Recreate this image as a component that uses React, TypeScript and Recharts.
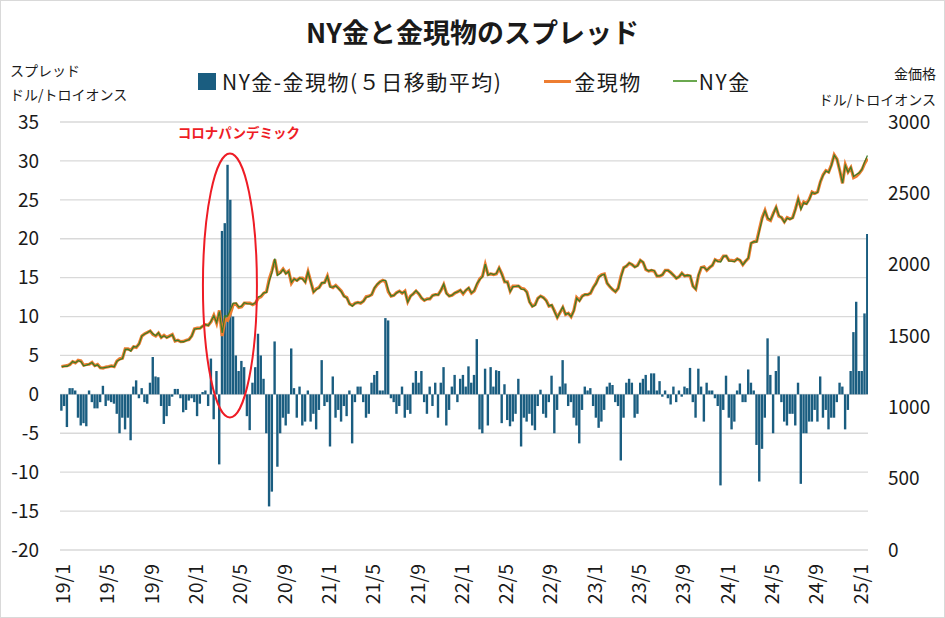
import { ComposedChart, Bar, Line, XAxis, YAxis, CartesianGrid, ReferenceDot } from 'recharts'

const FONT = '"Noto Sans CJK JP", "Noto Sans", sans-serif'

// spot gold, USD/oz, four readings per month (about 1st, 8th, 16th, 23rd)
const spot19 = [
  1285, 1290, 1292, 1300, 1320, 1312, 1330, 1325, 1295, 1300, 1302, 1315,
  1292, 1300, 1278, 1275, 1282, 1285, 1290, 1285, 1325, 1340, 1345, 1410,
  1410, 1400, 1425, 1420, 1445, 1500, 1515, 1525, 1535, 1510, 1500, 1520,
  1490, 1505, 1490, 1500, 1510, 1465, 1470, 1460, 1462, 1470, 1475, 1500,
]
const spot20 = [
  1550, 1555, 1555, 1570, 1580, 1575, 1600, 1645, 1590, 1680, 1500, 1620,
  1610, 1660, 1720, 1725, 1700, 1705, 1730, 1730, 1730, 1720, 1730, 1765,
  1775, 1800, 1810, 1900, 1960, 2035, 1935, 1945, 1970, 1940, 1955, 1870,
  1900, 1890, 1905, 1905, 1880, 1950, 1880, 1810, 1830, 1840, 1870, 1875,
]
const spot21 = [
  1920, 1850, 1840, 1855, 1835, 1815, 1780, 1770, 1725, 1715, 1730, 1735,
  1730, 1745, 1775, 1780, 1790, 1835, 1860, 1880, 1890, 1880, 1810, 1780,
  1785, 1805, 1815, 1800, 1815, 1740, 1780, 1795, 1815, 1795, 1765, 1750,
  1760, 1760, 1785, 1790, 1790, 1820, 1860, 1800, 1780, 1785, 1800, 1810,
]
const spot22 = [
  1820, 1795, 1820, 1835, 1800, 1815, 1860, 1900, 1920, 2000, 1930, 1935,
  1930, 1935, 1975, 1935, 1880, 1880, 1815, 1850, 1850, 1850, 1835, 1830,
  1810, 1740, 1710, 1720, 1765, 1780, 1770, 1750, 1710, 1715, 1675, 1630,
  1665, 1700, 1650, 1660, 1635, 1680, 1770, 1750, 1780, 1790, 1790, 1800,
]
const spot23 = [
  1840, 1870, 1915, 1930, 1935, 1870, 1845, 1825, 1810, 1835, 1920, 1980,
  1990, 2010, 2000, 1985, 1995, 2030, 2015, 1965, 1955, 1960, 1955, 1920,
  1920, 1930, 1960, 1960, 1945, 1925, 1905, 1915, 1940, 1920, 1925, 1920,
  1850, 1830, 1925, 1980, 1985, 1960, 1980, 1995, 2035, 2025, 2030, 2060,
]
const spot24 = [
  2060, 2030, 2030, 2025, 2040, 2030, 2000, 2025, 2045, 2150, 2160, 2165,
  2250, 2330, 2380, 2320, 2310, 2360, 2400, 2340, 2330, 2300, 2330, 2320,
  2330, 2390, 2460, 2400, 2440, 2430, 2460, 2510, 2500, 2510, 2580, 2630,
  2660, 2650, 2700, 2770, 2740, 2660, 2570, 2700, 2650, 2680, 2610, 2620,
]
const spot25 = [2640, 2665, 2710, 2745]

// NY gold minus spot, 5-day average, same dates
const spread19 = [
  -2.1, -1.5, -4.2, 0.8, 0.8, 0.5, -3, -4, -3.7, -4.1, 0.5, -1,
  -1.8, -1.8, -1, 1.1, -1.5, -0.8, -1, -1.2, -2.5, -5, -3, -4.5,
  -3, -5.9, 1, 1.8, -0.5, 0.8, -1, -1.2, 1.5, 4.8, 2.3, 2.2,
  -1.5, -3.8, -2.8, -1.5, -0.3, 0.7, 0.7, -0.5, -2.3, -2, -0.8, -0.5,
]
const spread20 = [
  -1, -2.8, -1.2, 0.3, 0.5, -1.5, 4.6, -3.2, 3, -9, 21, 22,
  29.5, 25, 10, 5, 3, 4.3, 3.5, -2.8, -4.6, 1.5, 3.5, 7.8,
  5, 2, -5, -14.4, -12.5, 6.8, -9.3, -5, -3, -4, -2.5, 5.9,
  0.8, -3, 1, -4, -3.5, 0.5, -3.5, -2.5, -4.5, -2, 4.4, -1.5,
]
const spread21 = [
  -1, -6.7, 2.3, -3, -2, -3.5, -1.5, -2.8, 0.5, -6.3, -1, 1,
  1, -1, -3, -2.5, 1.5, 2.5, 3, 0.5, 0.5, 9.8, 9.5, -0.5,
  -1, -2.5, -1.5, 1, -3, -2, -2.5, 1.5, 3, 1.5, 3, -1,
  -2.5, 1, -1.5, 1.5, -3, 1.5, 3.5, -4, -2, 1, 2.5, -1,
]
const spread22 = [
  2, 2.5, 1, 3.6, 1.5, 2.5, 7.1, -4.5, -5, 3.3, -4, 3.5,
  1, 3.1, 3, -3.7, 1.3, -3.3, -4.1, -3.5, -2.5, 2, -6.7, -3,
  -3.5, -2.5, -4, -4.6, -1.5, 0.6, -2.5, -3, -1, 2.4, -5, -2,
  1, 4.4, 1.4, -1.5, -1, -3, -4, -6.3, -2, 1, 0.5, 0.8,
]
const spread23 = [
  -1.5, -3, -4.3, -3.5, -2, 1, 1.5, 1.2, -1, -1.5, -8.5, -3,
  1.5, 2, 1.5, -3, -2.5, 1.5, 2, 2.5, 0.5, 2.7, 2.7, 0.5,
  1.7, -0.3, 0.5, -0.5, -1.3, 1, -1, 0.5, -0.3, 1, 0.8, 3.4,
  -1, -3, 3.3, 1, -3.5, 1.5, 0.5, 0.5, -0.5, -1.5, -11.7, -2,
]
const spread24 = [
  2.4, -3, -4.5, -3.5, 0.5, 1.4, -1, -1, 3.2, 1.5, 0.5, -6.5,
  -11.2, -7, -3, 7.2, 2.5, -5, 3, 4.9, -1, -3.5, -4, -2.5,
  -2.5, -4, 1.5, -11.5, -5, -5, -3.5, -3.5, -2, -3.5, 2.3, -3,
  -2, -4.5, -3, -3, -1, 1.5, 1, -4.5, -2, 3, 8, 11.9,
]
const spread25 = [3, 3, 10.4, 20.6]

const monthTicks = [0, 4, 8, 12, 16, 20, 24, 28, 32, 36, 40, 44, 48, 52, 56, 60, 64, 68, 72]
const leftTicks = [-20, -15, -10, -5, 0, 5, 10, 15, 20, 25, 30, 35]
const rightTicks = [0, 500, 1000, 1500, 2000, 2500, 3000]

const spot = [...spot19, ...spot20, ...spot21, ...spot22, ...spot23, ...spot24, ...spot25]
const spread = [...spread19, ...spread20, ...spread21, ...spread22, ...spread23, ...spread24, ...spread25]

// t = months since Jan 2019; NY = spot + spread by definition of the spread
const data = spot.map((s, i) => ({ t: i / 4, spot: s, spread: spread[i], ny: s + spread[i] }))

const monthLabel = (t: number) => `${19 + Math.floor(t / 12)}/${(t % 12) + 1}`

const MonthTick = (props: any) => {
  const { x, y, payload } = props
  return (
    <text
      x={x}
      y={y}
      transform={`rotate(-90 ${x} ${y})`}
      textAnchor="end"
      dominantBaseline="central"
      fontSize={19.5}
      fontFamily={FONT}
      fill="#1a1a1a"
    >
      {monthLabel(payload.value)}
    </text>
  )
}

const CovidMark = (props: any) => {
  const { cx, cy } = props
  return (
    <g>
      <ellipse cx={cx} cy={cy} rx={27} ry={132} fill="none" stroke="#ee1c25" strokeWidth={2} />
      <text x={cx + 9} y={cy - 147} textAnchor="middle" fontSize={13.5} fontWeight="bold" fontFamily={FONT} fill="#ee1c25">
        コロナパンデミック
      </text>
    </g>
  )
}

const tickStyle = { fontSize: 19, fill: '#1a1a1a', fontFamily: FONT }

export default function App() {
  return (
    <div
      style={{
        position: 'absolute', left: 0, top: 0, width: 945, height: 618, background: '#fff',
        border: '1px solid #d9d9d9', boxSizing: 'border-box', fontFamily: FONT, color: '#1a1a1a',
      }}
    >
      <div style={{ position: 'absolute', top: 11, width: '100%', textAlign: 'center', fontSize: 27, fontWeight: 'bold' }}>
        NY金と金現物のスプレッド
      </div>
      <div style={{ position: 'absolute', left: 9, top: 57, fontSize: 14, lineHeight: '24px' }}>
        スプレッド<br />ドル/トロイオンス
      </div>
      <div style={{ position: 'absolute', right: 8, top: 59, fontSize: 14, lineHeight: '26px', textAlign: 'right' }}>
        金価格<br />ドル/トロイオンス
      </div>
      <div style={{ position: 'absolute', left: 197, top: 65, display: 'flex', alignItems: 'center', fontSize: 21, letterSpacing: 1.5 }}>
        <span style={{ width: 18, height: 17, background: '#1a5d80', display: 'inline-block', marginRight: 6 }} />
        <span>NY金-金現物(５日移動平均)</span>
        <span style={{ width: 27, height: 3, background: '#ed7d31', display: 'inline-block', marginLeft: 42, marginRight: 3 }} />
        <span>金現物</span>
        <span style={{ width: 24, height: 1.5, background: '#6aa84f', display: 'inline-block', marginLeft: 31, marginRight: 2 }} />
        <span>NY金</span>
      </div>
      <ComposedChart
        width={943}
        height={616}
        data={data}
        margin={{ top: 121, right: 0, bottom: 0, left: 0 }}
        style={{ position: 'absolute', left: 0, top: 0 }}
      >
        <CartesianGrid yAxisId="left" vertical={false} stroke="#d9d9d9" strokeWidth={1.3} />
        <XAxis
          dataKey="t"
          type="number"
          domain={[-0.14, 72.8]}
          ticks={monthTicks}
          allowDataOverflow
          axisLine={false}
          tickLine={false}
          tickSize={0}
          tickMargin={14}
          height={67}
          tick={<MonthTick />}
          interval={0}
        />
        <YAxis
          yAxisId="left"
          domain={[-20, 35]}
          ticks={leftTicks}
          axisLine={false}
          tickLine={false}
          tickSize={0}
          tickMargin={21}
          width={59}
          tick={tickStyle}
          interval={0}
        />
        <YAxis
          yAxisId="right"
          orientation="right"
          domain={[0, 3000]}
          ticks={rightTicks}
          axisLine={false}
          tickLine={false}
          tickSize={0}
          tickMargin={20}
          width={76}
          tick={{ ...tickStyle, textAnchor: 'start' }}
          interval={0}
        />
        <Bar yAxisId="left" dataKey="spread" fill="#1a5d80" barSize={2.4} isAnimationActive={false} />
        <Line yAxisId="right" dataKey="spot" stroke="#ed7d31" strokeWidth={3.2} dot={false} isAnimationActive={false} />
        <Line yAxisId="right" dataKey="ny" stroke="#3f7a25" strokeWidth={1.3} dot={false} isAnimationActive={false} />
        <ReferenceDot yAxisId="left" x={15.2} y={14} shape={<CovidMark />} />
      </ComposedChart>
    </div>
  )
}
